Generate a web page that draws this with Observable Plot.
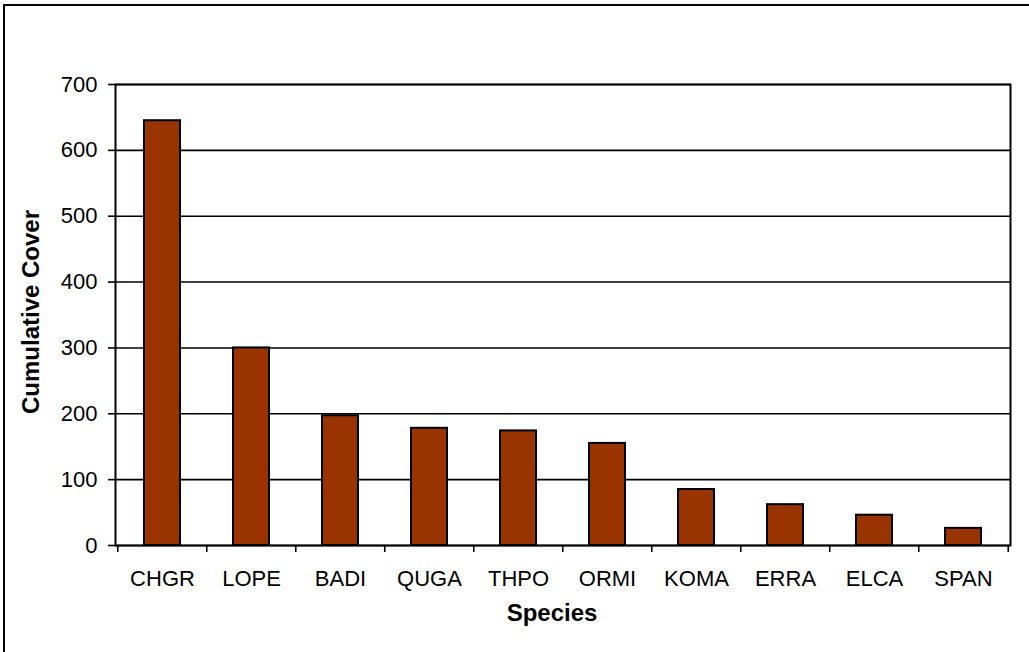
<!DOCTYPE html>
<html>
<head>
<meta charset="utf-8">
<script src="https://cdn.jsdelivr.net/npm/d3@7"></script>
<script src="https://cdn.jsdelivr.net/npm/@observablehq/plot@0.6"></script>
<style>
  html, body { margin: 0; padding: 0; background: #fff; }
  #wrap { position: relative; width: 1029px; height: 652px; overflow: hidden; }
  #border { position: absolute; left: 3px; top: 4px; width: 1100px; height: 700px;
            border-left: 2px solid #000; border-top: 2px solid #000; pointer-events: none; }
  #chart { position: absolute; left: 0; top: 0; }
</style>
</head>
<body>
<div id="wrap"><div id="chart"></div><div id="border"></div></div>
<script>
const species = ["CHGR", "LOPE", "BADI", "QUGA", "THPO", "ORMI", "KOMA", "ERRA", "ELCA", "SPAN"];
const cover = [645, 300, 197, 178, 174, 155, 85, 62, 46, 26];
const yTicks = [0, 100, 200, 300, 400, 500, 600, 700];
const yLabel = "Cumulative Cover";
const xLabel = "Species";

const data = species.map((s, i) => ({species: s, cover: cover[i]}));

const W = 1029, H = 652;
const mL = 115, mR = 19, mT = 84, mB = 107;
const step = (W - mL - mR) / species.length;
const tickPx = 7;
const tickData = 700 * tickPx / (H - mT - mB);
const font = "'Liberation Sans', Arial, sans-serif";

const chart = Plot.plot({
  width: W,
  height: H,
  marginLeft: mL,
  marginRight: mR,
  marginTop: mT,
  marginBottom: mB,
  style: {fontFamily: font, background: "transparent", color: "#000"},
  x: {domain: species, paddingInner: 0.6, paddingOuter: 0.3, axis: null},
  y: {domain: [0, 700], axis: null},
  marks: [
    Plot.gridY(yTicks, {stroke: "#000", strokeOpacity: 1, strokeWidth: 1.6}),
    Plot.barY(data, {x: "species", y: "cover", fill: "#993300", stroke: "#000", strokeWidth: 2}),
    Plot.frame({stroke: "#000", strokeWidth: 2}),
    Plot.axisY(yTicks, {tickSize: tickPx, tickPadding: 11, fontSize: 22, strokeWidth: 1.6, label: null}),
    Plot.axisX(species, {tickSize: 0, tickPadding: 25, fontSize: 22, label: null}),
    Plot.ruleX(species, {x: d => d, dx: -step / 2, y1: 0, y2: -tickData, stroke: "#000", strokeWidth: 1.6}),
    Plot.ruleX(species.slice(-1), {x: d => d, dx: step / 2, y1: 0, y2: -tickData, stroke: "#000", strokeWidth: 1.6}),
    Plot.text([yLabel], {frameAnchor: "left", textAnchor: "middle", rotate: -90, dx: -84, dy: -3, fontSize: 24, fontWeight: "bold", text: d => d}),
    Plot.text([xLabel], {frameAnchor: "bottom", dx: -11, dy: 75, fontSize: 24, fontWeight: "bold", text: d => d})
  ]
});
document.getElementById("chart").appendChild(chart);
</script>
</body>
</html>
